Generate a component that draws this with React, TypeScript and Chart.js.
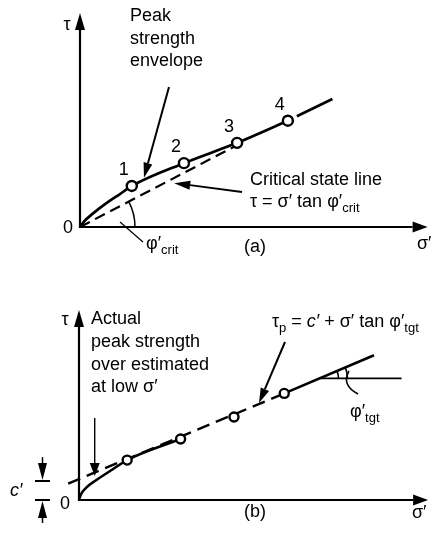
import React, { useEffect, useRef } from "react";
import { Chart, registerables } from "chart.js";

Chart.register(...registerables);

// ---- Panel (a): peak strength tests and the critical state line ----
const aTestSigma = [1.49, 2.99, 4.52, 5.98];
const aTestTau = [1.15, 1.79, 2.36, 2.98];
const aTestLabels = ["1", "2", "3", "4"];
const aEnvelopeSigma = [0, 0.12, 0.35, 0.75, 1.13, 1.49, 2.99, 4.52, 5.98];
const aEnvelopeTau = [0, 0.16, 0.36, 0.66, 0.91, 1.15, 1.79, 2.36, 2.98];
const aEnvelopeTailSigma = [5.98, 7.26];
const aEnvelopeTailTau = [2.98, 3.59];
const aCslSigma = [0, 4.43];
const aCslTau = [0, 2.25];
const aSigmaMax = 10;
const aTauMax = 6;

// ---- Panel (b): linear fit of the peak strengths with a cohesion intercept ----
const bTestSigma = [1.38, 2.91, 4.44, 5.88];
const bTestTau = [1.12, 1.71, 2.33, 2.99];
const bActualSigma = [0, 0.05, 0.2, 0.5, 0.9, 1.38, 2.91];
const bActualTau = [0, 0.15, 0.34, 0.56, 0.82, 1.12, 1.71];
const bFitSigma = [-0.31, 5.88];
const bFitTau = [0.46, 2.99];
const bTailSigma = [5.88, 8.45];
const bTailTau = [2.99, 4.06];
const bHorizSigma = [6.86, 9.24];
const bHorizTau = [3.41, 3.41];
const bCohesion = 0.53;
const bSigmaMax = 10;
const bTauMax = 5.33;

const FONT = '"Liberation Sans", Arial, Helvetica, sans-serif';

const pts = (xs: number[], ys: number[]) => xs.map((x, i) => ({ x, y: ys[i] }));

type Seg = { t: string; size?: number; italic?: boolean; dy?: number };

function font(size: number, italic?: boolean) {
  return `${italic ? "italic " : ""}${size}px ${FONT}`;
}

function rich(ctx: CanvasRenderingContext2D, x: number, y: number, segs: Seg[], align: "left" | "center" = "left") {
  ctx.textAlign = "left";
  ctx.textBaseline = "alphabetic";
  let total = 0;
  for (const s of segs) {
    ctx.font = font(s.size ?? 18, s.italic);
    total += ctx.measureText(s.t).width;
  }
  let cx = align === "center" ? x - total / 2 : x;
  for (const s of segs) {
    ctx.font = font(s.size ?? 18, s.italic);
    ctx.fillText(s.t, cx, y + (s.dy ?? 0));
    cx += ctx.measureText(s.t).width;
  }
}

function arrow(
  ctx: CanvasRenderingContext2D,
  x1: number, y1: number, x2: number, y2: number,
  lw: number, hl: number, hw: number
) {
  const a = Math.atan2(y2 - y1, x2 - x1);
  const bx = x2 - hl * Math.cos(a);
  const by = y2 - hl * Math.sin(a);
  ctx.lineWidth = lw;
  ctx.beginPath();
  ctx.moveTo(x1, y1);
  ctx.lineTo(bx, by);
  ctx.stroke();
  ctx.beginPath();
  ctx.moveTo(x2, y2);
  ctx.lineTo(bx + hw * Math.sin(a), by - hw * Math.cos(a));
  ctx.lineTo(bx - hw * Math.sin(a), by + hw * Math.cos(a));
  ctx.closePath();
  ctx.fill();
}

function drawAxes(chart: any) {
  const ctx: CanvasRenderingContext2D = chart.ctx;
  const xs = chart.scales.x;
  const ys = chart.scales.y;
  const x0 = xs.getPixelForValue(0);
  const y0 = ys.getPixelForValue(0);
  ctx.save();
  ctx.strokeStyle = "#000";
  ctx.fillStyle = "#000";
  ctx.lineCap = "butt";
  arrow(ctx, x0, y0 + 1, x0, ys.getPixelForValue(ys.max), 2.2, 17, 5);
  arrow(ctx, x0 - 1, y0, xs.getPixelForValue(xs.max), y0, 2.2, 15, 5.5);
  ctx.restore();
}

const panelA = {
  id: "panelA",
  beforeDatasetsDraw(chart: any) {
    drawAxes(chart);
  },
  afterDatasetsDraw(chart: any) {
    const ctx: CanvasRenderingContext2D = chart.ctx;
    const xs = chart.scales.x;
    const ys = chart.scales.y;
    const px = (v: number) => xs.getPixelForValue(v);
    const py = (v: number) => ys.getPixelForValue(v);
    const ox = px(0);
    const oy = py(0);
    ctx.save();
    ctx.fillStyle = "#000";
    ctx.strokeStyle = "#000";

    // axis labels
    rich(ctx, 67, 30, [{ t: "τ" }], "center");
    rich(ctx, 68, 233, [{ t: "0" }], "center");
    rich(ctx, 417, 249, [{ t: "σ′" }]);
    rich(ctx, 255, 252, [{ t: "(a)" }], "center");

    // test numbers
    aTestLabels.forEach((lab, i) => {
      rich(ctx, px(aTestSigma[i]) - 8, py(aTestTau[i]) - 11, [{ t: lab }], "center");
    });

    // peak strength envelope label and pointer
    rich(ctx, 130, 21, [{ t: "Peak" }]);
    rich(ctx, 130, 43.5, [{ t: "strength" }]);
    rich(ctx, 130, 66, [{ t: "envelope" }]);
    arrow(ctx, 169, 87, px(1.84), py(1.38), 2, 15, 4.5);

    // critical state line label and pointer
    rich(ctx, 250, 185, [{ t: "Critical state line" }]);
    rich(ctx, 250, 207, [{ t: "τ = σ′ tan φ′" }, { t: "crit", size: 13, dy: 5 }]);
    arrow(ctx, 242, 192, px(2.71), py(1.23), 1.8, 16, 4.5);

    // friction angle of the critical state line
    const ang = Math.atan2(py(aCslTau[1]) - oy, px(aCslSigma[1]) - ox);
    ctx.lineWidth = 1.5;
    ctx.beginPath();
    ctx.arc(ox, oy, 55, ang, 0);
    ctx.stroke();
    ctx.lineWidth = 1.2;
    ctx.beginPath();
    ctx.moveTo(120, 222);
    ctx.lineTo(143, 242);
    ctx.stroke();
    rich(ctx, 146, 249, [{ t: "φ′" }, { t: "crit", size: 13, dy: 5 }]);
    ctx.restore();
  },
};

const panelB = {
  id: "panelB",
  beforeDatasetsDraw(chart: any) {
    drawAxes(chart);
  },
  afterDatasetsDraw(chart: any) {
    const ctx: CanvasRenderingContext2D = chart.ctx;
    const xs = chart.scales.x;
    const ys = chart.scales.y;
    const px = (v: number) => xs.getPixelForValue(v);
    const py = (v: number) => ys.getPixelForValue(v);
    ctx.save();
    ctx.fillStyle = "#000";
    ctx.strokeStyle = "#000";

    rich(ctx, 65, 57, [{ t: "τ" }], "center");
    rich(ctx, 65, 241, [{ t: "0" }], "center");
    rich(ctx, 412, 250, [{ t: "σ′" }]);
    rich(ctx, 255, 249, [{ t: "(b)" }], "center");

    // note on the low-stress region
    rich(ctx, 91, 56, [{ t: "Actual" }]);
    rich(ctx, 91, 79, [{ t: "peak strength" }]);
    rich(ctx, 91, 102, [{ t: "over estimated" }]);
    rich(ctx, 91, 124, [{ t: "at low σ′" }]);
    arrow(ctx, px(0.45), 150, px(0.45), 208, 1.4, 13, 5);

    // cohesion intercept dimension
    const yc = py(bCohesion);
    const y0 = py(0);
    const cx = 42.5;
    ctx.lineWidth = 2;
    ctx.beginPath();
    ctx.moveTo(35, yc);
    ctx.lineTo(50, yc);
    ctx.moveTo(35, y0);
    ctx.lineTo(50, y0);
    ctx.stroke();
    arrow(ctx, cx, yc - 24, cx, yc - 1, 1.5, 17, 4.5);
    arrow(ctx, cx, y0 + 23, cx, y0 + 1, 1.5, 17, 4.5);
    rich(ctx, 10, 228, [{ t: "c′", italic: true }]);

    // fitted envelope equation and pointer
    rich(ctx, 272, 59, [
      { t: "τ" },
      { t: "p", size: 13, dy: 5 },
      { t: " = " },
      { t: "c′", italic: true },
      { t: " + σ′ tan φ′" },
      { t: "tgt", size: 13, dy: 5 },
    ]);
    arrow(ctx, 285, 74, 259, 135, 2, 15, 4.5);

    // tangent angle construction
    const vx = px(bHorizSigma[0]);
    const vy = py(bHorizTau[0]);
    const slopeAng = Math.atan2(py(bTailTau[1]) - py(bTailTau[0]), px(bTailSigma[1]) - px(bTailSigma[0]));
    ctx.lineWidth = 1.6;
    ctx.beginPath();
    ctx.arc(vx, vy, 20, slopeAng, 0);
    ctx.stroke();
    ctx.beginPath();
    ctx.arc(vx, vy, 29, slopeAng, 0);
    ctx.stroke();
    ctx.beginPath();
    ctx.moveTo(349, 103);
    ctx.quadraticCurveTo(341, 117, 358, 126);
    ctx.stroke();
    rich(ctx, 350, 149, [{ t: "φ′" }, { t: "tgt", size: 13, dy: 5 }]);
    ctx.restore();
  },
};

function baseOptions(xMax: number, yMax: number, padding: any) {
  return {
    responsive: false,
    animation: false as const,
    events: [] as any[],
    layout: { padding },
    plugins: { legend: { display: false }, tooltip: { enabled: false } },
    scales: {
      x: { type: "linear" as const, display: false, min: 0, max: xMax },
      y: { type: "linear" as const, display: false, min: 0, max: yMax },
    },
  };
}

const lineDs = (data: any[], extra: any = {}) => ({
  data,
  borderColor: "#000",
  borderWidth: 2.5,
  pointRadius: 0,
  fill: false,
  tension: 0,
  clip: false,
  ...extra,
});

const markerDs = (data: any[], r: number) => ({
  data,
  showLine: false,
  pointRadius: r,
  pointBorderWidth: 2.4,
  pointBackgroundColor: "#fff",
  pointBorderColor: "#000",
  clip: false,
  order: 0,
});

export default function App() {
  const refA = useRef<HTMLCanvasElement>(null);
  const refB = useRef<HTMLCanvasElement>(null);

  useEffect(() => {
    const a = new Chart(refA.current as HTMLCanvasElement, {
      type: "line",
      data: {
        datasets: [
          markerDs(pts(aTestSigma, aTestTau), 5),
          lineDs(pts(aEnvelopeSigma, aEnvelopeTau), { cubicInterpolationMode: "monotone", borderWidth: 2.7, order: 1 }),
          lineDs(pts(aEnvelopeTailSigma, aEnvelopeTailTau), { borderDash: [0, 10, 60], borderWidth: 2.7, order: 2 }),
          lineDs(pts(aCslSigma, aCslTau), { borderDash: [11, 6], borderWidth: 2.2, order: 3 }),
        ],
      },
      options: baseOptions(aSigmaMax, aTauMax, { left: 80, right: 1, top: 13, bottom: 41 }) as any,
      plugins: [panelA],
    });
    const b = new Chart(refB.current as HTMLCanvasElement, {
      type: "line",
      data: {
        datasets: [
          markerDs(pts(bTestSigma, bTestTau), 4.5),
          lineDs(pts(bActualSigma, bActualTau), { cubicInterpolationMode: "monotone", borderWidth: 2.6, order: 1 }),
          lineDs(pts(bFitSigma, bFitTau), { borderDash: [13, 7], borderWidth: 2.4, order: 2 }),
          lineDs(pts(bTailSigma, bTailTau), { borderWidth: 2.6, order: 3 }),
          lineDs(pts(bHorizSigma, bHorizTau), { borderWidth: 1.8, order: 4 }),
        ],
      },
      options: baseOptions(bSigmaMax, bTauMax, { left: 79, right: 2, top: 42, bottom: 36 }) as any,
      plugins: [panelB],
    });
    return () => {
      a.destroy();
      b.destroy();
    };
  }, []);

  return (
    <div style={{ position: "absolute", left: 0, top: 0, width: 435, height: 536, background: "#fff" }}>
      <canvas ref={refA} width={435} height={268} style={{ display: "block" }} />
      <canvas ref={refB} width={435} height={268} style={{ display: "block" }} />
    </div>
  );
}
